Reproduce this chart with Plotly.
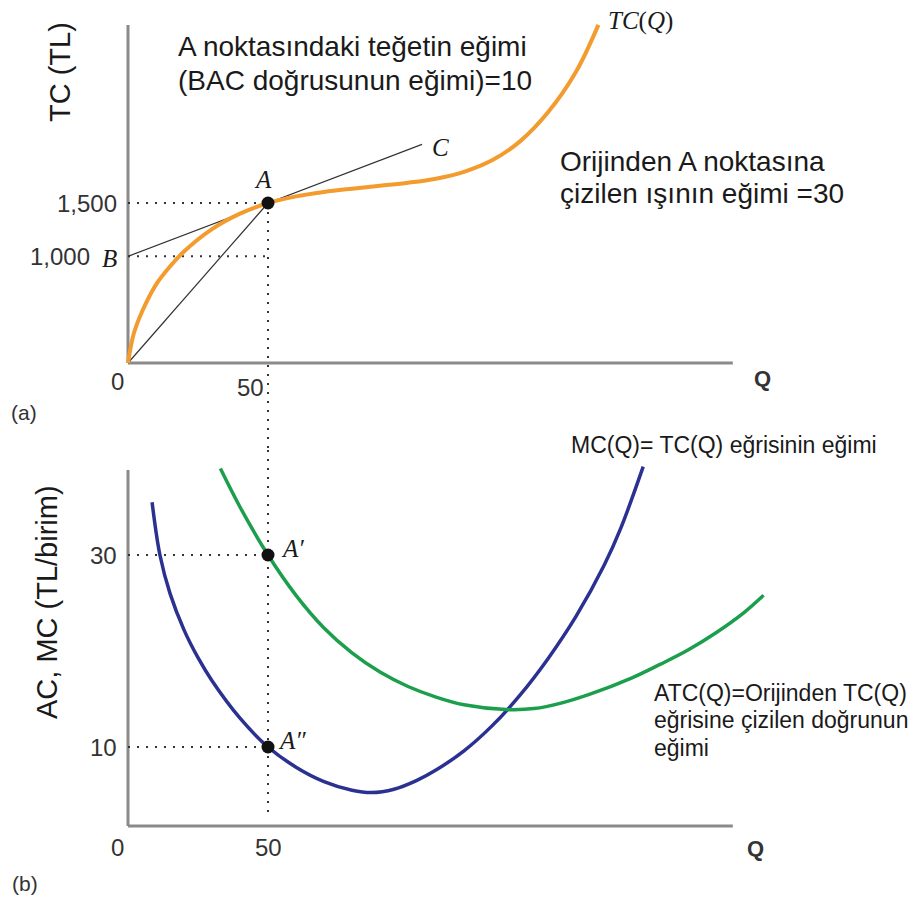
import plotly.graph_objects as go

# --- (a) Toplam maliyet paneli ---
tc_q = [0, 2, 5, 10, 15, 20, 30, 40, 50, 60, 70, 80, 90, 100, 110, 120, 130, 140, 150, 160, 168]
tc_val = [0, 270, 480, 735, 905, 1045, 1255, 1400, 1500, 1562, 1603, 1634, 1662, 1690, 1728, 1792,
          1900, 2078, 2350, 2730, 3170]

tangent_q = [0, 105]          # B -> A -> C doğrusu (eğim 10)
tangent_val = [1000, 2050]
ray_q = [0, 50]               # orijinden A'ya ışın (eğim 30)
ray_val = [0, 1500]

point_a = (50, 1500)
tc_ticks = [1000, 1500]
tc_tick_labels = ["1,000", "1,500"]

# --- (b) Ortalama / marjinal maliyet paneli ---
mc_q = [8.6, 11.4, 15, 20, 25, 30, 40, 50, 60, 70, 80, 87, 95, 103, 110, 120, 130, 140, 150, 160, 170, 176, 184]
mc_val = [35.5, 30.0, 26.0, 22.2, 19.3, 16.9, 13.0, 10.0, 7.9, 6.4, 5.5, 5.25, 5.6, 6.5, 7.6, 9.6,
          12.2, 15.4, 19.2, 23.6, 28.9, 32.8, 39.2]

atc_q = [33, 40, 50, 60, 70, 80, 90, 100, 110, 120, 135, 145, 155, 165, 180, 190, 200, 210, 220, 227]
atc_val = [39.0, 35.0, 30.0, 25.8, 22.4, 19.8, 17.8, 16.3, 15.2, 14.4, 13.9, 14.0, 14.6, 15.5, 17.2,
           18.6, 20.1, 21.9, 24.0, 25.8]

point_a1 = (50, 30)
point_a2 = (50, 10)
ac_ticks = [10, 30]
ac_tick_labels = ["10", "30"]

# eksen uçları (çizimdeki gibi)
q_axis_end = 216
tc_axis_top = 3169
ac_axis_top = 38.85
ac_axis_floor = 1.77

# renkler
ORANGE = "#f39b2d"
BLUE = "#2b3190"
GREEN = "#1c9f4c"
AXIS = "#8a8a8a"
DOT = "#333333"
SANS = "Liberation Sans, Arial, sans-serif"
SERIF = "Liberation Serif, Times New Roman, serif"

W, H = 922, 900


def px(x):
    return x / W


def py(y):
    return 1 - y / H


fig = go.Figure()


def line(xs, ys, color, width, dash=None, xa="x", ya="y"):
    fig.add_trace(go.Scatter(
        x=xs, y=ys, mode="lines", xaxis=xa, yaxis=ya,
        line=dict(color=color, width=width, dash=dash),
        hoverinfo="skip", showlegend=False
    ))


def curve(xs, ys, color, width, xa="x", ya="y"):
    fig.add_trace(go.Scatter(
        x=xs, y=ys, mode="lines", xaxis=xa, yaxis=ya,
        line=dict(color=color, width=width, shape="spline", smoothing=1.0),
        hoverinfo="skip", showlegend=False
    ))


DOTS = "2px,7px"

# (a) eksenler
line([0, 0], [0, tc_axis_top], AXIS, 3)
line([0, q_axis_end], [0, 0], AXIS, 3)

# (a) noktalı çizgiler
line([0, point_a[0]], [point_a[1], point_a[1]], DOT, 2, DOTS)
line([0, point_a[0]], [tangent_val[0], tangent_val[0]], DOT, 2, DOTS)
line([point_a[0], point_a[0]], [point_a[1], -815.6], DOT, 2, DOTS)

# (a) teğet ve ışın
line(tangent_q, tangent_val, "#333333", 1.2)
line(ray_q, ray_val, "#333333", 1.2)

curve(tc_q, tc_val, ORANGE, 4)
fig.add_trace(go.Scatter(
    x=[point_a[0]], y=[point_a[1]], mode="markers",
    marker=dict(color="#111111", size=13),
    hoverinfo="skip", showlegend=False
))

# (b) eksenler
line([0, 0], [ac_axis_floor, ac_axis_top], AXIS, 3, xa="x2", ya="y2")
line([0, q_axis_end], [ac_axis_floor, ac_axis_floor], AXIS, 3, xa="x2", ya="y2")

# (b) noktalı çizgiler
line([point_a[0], point_a[0]], [40.94, 2.6], DOT, 2, DOTS, "x2", "y2")
line([0, point_a1[0]], [point_a1[1], point_a1[1]], DOT, 2, DOTS, "x2", "y2")
line([0, point_a2[0]], [point_a2[1], point_a2[1]], DOT, 2, DOTS, "x2", "y2")

curve(mc_q, mc_val, BLUE, 3.5, "x2", "y2")
curve(atc_q, atc_val, GREEN, 3.5, "x2", "y2")
fig.add_trace(go.Scatter(
    x=[point_a1[0], point_a2[0]], y=[point_a1[1], point_a2[1]], mode="markers",
    xaxis="x2", yaxis="y2",
    marker=dict(color="#111111", size=13),
    hoverinfo="skip", showlegend=False
))

ann = []


def text(t, x, y, size, xanchor="center", yanchor="middle", xref="paper", yref="paper",
         xshift=0, yshift=0, font=SANS, color="#1a1a1a", angle=0):
    ann.append(dict(
        text=t, x=x, y=y, xref=xref, yref=yref, xanchor=xanchor, yanchor=yanchor,
        xshift=xshift, yshift=yshift, showarrow=False, textangle=angle, align="left",
        font=dict(family=font, size=size, color=color)
    ))


# (a) yazılar
text("TC (TL)", px(60), py(72), 29, angle=-90)
text("A noktasındaki teğetin eğimi", px(176), py(47), 28, xanchor="left")
text("(BAC doğrusunun eğimi)=10", px(176), py(80), 28, xanchor="left")
text("Orijinden A noktasına", px(558), py(161), 28, xanchor="left")
text("çizilen ışının eğimi =30", px(558), py(194), 28, xanchor="left")
for v, lab in zip(tc_ticks, tc_tick_labels):
    shift = -36 if v == tangent_val[0] else -9
    text(lab, 0, v, 24, xanchor="right", xref="x", yref="y", xshift=shift, color="#333333")
text("<i>B</i>", 0, tangent_val[0], 25, xref="x", yref="y", xshift=-19, yshift=-2, font=SERIF)
text("<i>A</i>", point_a[0], point_a[1], 25, xref="x", yref="y", xshift=-5, yshift=24, font=SERIF)
text("<i>C</i>", 111.5, 2020, 25, xref="x", yref="y", font=SERIF)
text("<i>TC</i>(<i>Q</i>)", tc_q[-1], tc_val[-1], 25, xanchor="left", xref="x", yref="y",
     xshift=8, yshift=4, font=SERIF)
text("0", 0, 0, 24, xref="x", yref="y", xshift=-11, yshift=-18, color="#333333")
text("50", point_a[0], 0, 24, xref="x", yref="y", xshift=-18, yshift=-24, color="#333333")
text("<b>Q</b>", q_axis_end, 0, 22, xref="x", yref="y", xshift=30, yshift=-15, color="#333333")
text("(a)", px(24), py(412), 21, color="#333333")

# (b) yazılar
text("AC, MC (TL/birim)", px(47), py(602), 29, angle=-90)
for v, lab in zip(ac_ticks, ac_tick_labels):
    text(lab, 0, v, 24, xanchor="right", xref="x2", yref="y2", xshift=-9, color="#333333")
text("<i>A′</i>", point_a1[0], point_a1[1], 25, xref="x2", yref="y2", xshift=24, yshift=7, font=SERIF)
text("<i>A″</i>", point_a2[0], point_a2[1], 25, xref="x2", yref="y2", xshift=24, yshift=7, font=SERIF)
text("0", 0, ac_axis_floor, 24, xref="x2", yref="y2", xshift=-11, yshift=-21, color="#333333")
text("50", point_a[0], ac_axis_floor, 24, xref="x2", yref="y2", yshift=-21, color="#333333")
text("<b>Q</b>", q_axis_end, ac_axis_floor, 22, xref="x2", yref="y2", xshift=23, yshift=-22,
     color="#333333")
text("MC(Q)= TC(Q) eğrisinin eğimi", px(569), py(445), 23, xanchor="left")
text("ATC(Q)=Orijinden TC(Q)", px(652), py(693), 23, xanchor="left")
text("eğrisine çizilen doğrunun", px(652), py(720), 23, xanchor="left")
text("eğimi", px(652), py(748), 23, xanchor="left")
text("(b)", px(25), py(883), 21, color="#333333")

x_range = [-128 / 2.8, (W - 128) / 2.8]
hidden = dict(visible=False, showgrid=False, zeroline=False, fixedrange=True)

fig.update_layout(
    width=W, height=H,
    margin=dict(l=0, r=0, t=0, b=0),
    paper_bgcolor="white", plot_bgcolor="white",
    xaxis=dict(domain=[0, 1], range=x_range, anchor="y", **hidden),
    yaxis=dict(domain=[0.5, 1], range=[-815.625, 3403.125], anchor="x", **hidden),
    xaxis2=dict(domain=[0, 1], range=x_range, anchor="y2", **hidden),
    yaxis2=dict(domain=[0, 0.5], range=[-5.9375, 40.9375], anchor="x2", **hidden),
    annotations=ann,
    showlegend=False
)

# sayfa kenar boşluğunu kaldır ki şekil pencereye tam otursun
fig.write_html(
    "out.html",
    config={"displayModeBar": False},
    post_script="document.body.style.margin='0';document.body.style.overflow='hidden';"
)
